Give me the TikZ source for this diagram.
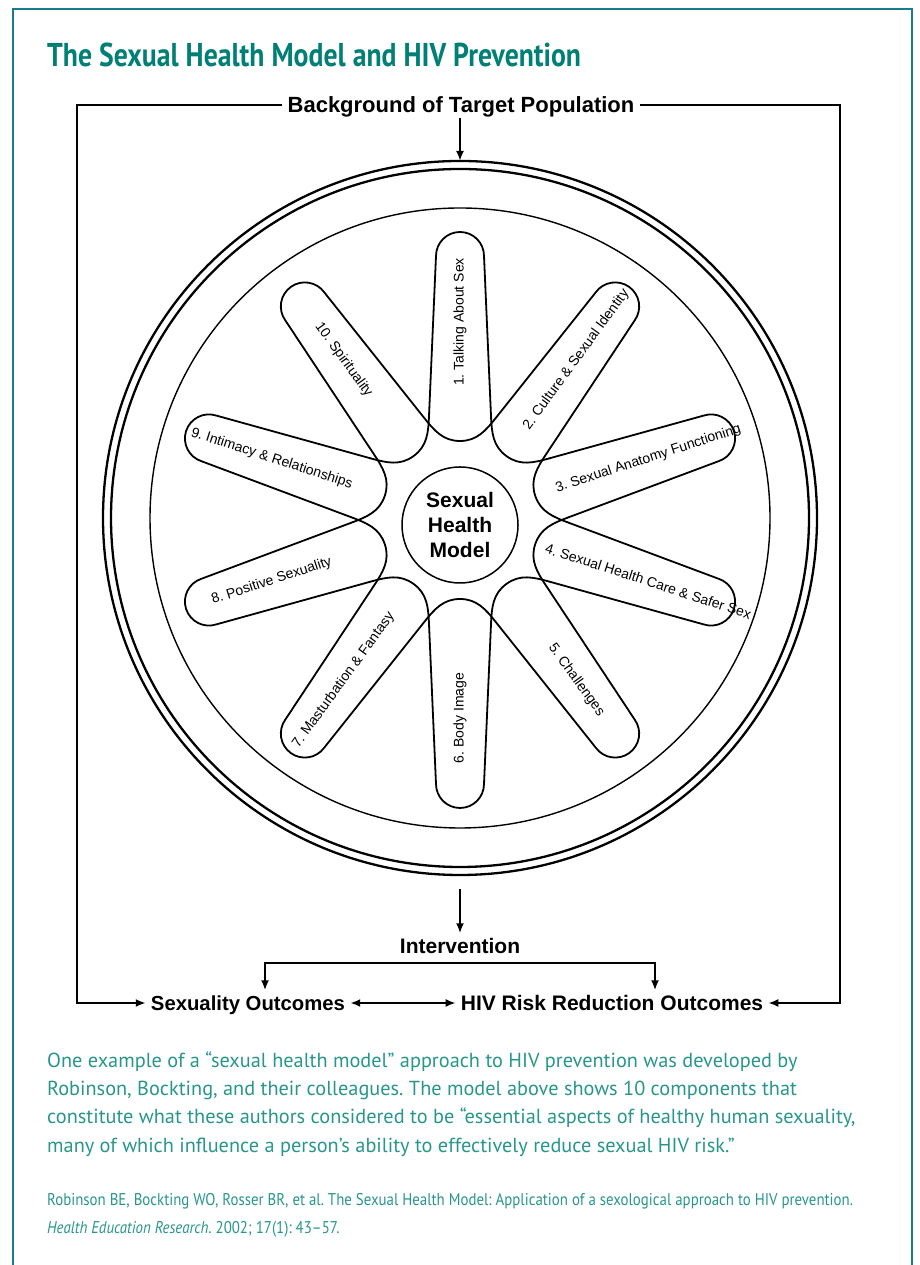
\documentclass[tikz,border=0pt]{standalone}
\usepackage{fontspec}
\setmainfont{Liberation Sans}
\newfontfamily\titlefont[FakeStretch=0.84]{PT Sans}
\newfontfamily\capfont{PT Sans}
\newfontfamily\citefont[FakeStretch=0.875]{PT Sans}
\usepackage{tikz}
\usetikzlibrary{arrows.meta,calc}
\definecolor{shmteal}{RGB}{0,128,116}
\definecolor{shmframe}{RGB}{27,122,140}
\definecolor{shmtext}{RGB}{40,150,140}
\frenchspacing
\tikzset{
  lbl/.style={font=\fontsize{21}{25}\selectfont\bfseries, inner sep=5pt, text height=15pt, text depth=0pt},
  petal/.style={line width=1.8pt, line cap=round},
  plabel/.style={font=\fontsize{14}{16}\selectfont, inner sep=0pt},
  arr/.style={line width=2.2pt, -{Latex[length=10pt,width=8pt]}},
  biarr/.style={line width=2.2pt, {Latex[length=10pt,width=8pt]}-{Latex[length=10pt,width=8pt]}},
  captext/.style={anchor=base west, inner sep=0pt, text=shmtext, font=\capfont\fontsize{20.3}{24}\selectfont},
  citetext/.style={anchor=base west, inner sep=0pt, text=shmtext, font=\citefont\fontsize{17}{20}\selectfont},
}
\begin{document}
\begin{tikzpicture}[x=1pt, y=1pt]
  \fill[white] (0,0) rectangle (919,1265);
  \useasboundingbox (0,0) rectangle (919,1265);
  % Teal box and title
  \draw[shmframe, line width=2.2pt] (13,0) -- (13,1256) -- (912,1256) -- (912,0);
  \node[anchor=base west, inner sep=0pt, text=shmteal, font=\titlefont\bfseries\fontsize{33}{36}\selectfont] (title) at (47,1198) {The Sexual Health Model and HIV Prevention};
  % Wheel
  \coordinate (wc) at (460,747);
  \coordinate (fc) at (460,745);
  \draw[line width=2.3pt] (wc) circle[radius=357];
  \draw[line width=2.3pt] (wc) circle[radius=349];
  \draw[line width=1.4pt] (wc) circle[radius=310];
  % Petals: outer part, then the bend that passes under each petal
  \foreach \a in {90,54,18,-18,-54,-90,-126,-162,-198,-234} {
    \begin{scope}[shift={(fc)}, rotate=\a-90]
      \draw[petal] (31,104) -- (24,264) arc[start angle=0, end angle=180, radius=24] -- (-31,104);
      \draw[petal] (-36.05,102.36) to[out=-51.5, in=180] (0,79) to[out=0, in=-128.5] (36.05,102.36);
    \end{scope}
  }
  \foreach \a/\r/\k/\txt in {90/90/1/{1. Talking About Sex}, 54/54/2/{2. Culture \& Sexual Identity},
      18/18/3/{3. Sexual Anatomy Functioning}, -18/-18/4/{4. Sexual Health Care \& Safer Sex},
      -54/-54/5/{5. Challenges}, -90/90/6/{6. Body Image}, -126/54/7/{7. Masturbation \& Fantasy},
      -162/18/8/{8. Positive Sexuality}, 162/-18/9/{9. Intimacy \& Relationships}, 126/-54/10/{10. Spirituality}} {
    \node[plabel, rotate=\r] (p\k) at ($(fc)+(\a:198)$) {\txt};
  }
  \node[draw, fill=white, circle, line width=1.5pt, minimum size=116pt, inner sep=0pt, align=center,
        font=\fontsize{21}{25}\selectfont\bfseries] (shm) at (460,740) {Sexual\\Health\\Model};
  % Frame and outcomes
  \node[lbl, fill=white, font=\fontsize{22}{25}\selectfont\bfseries] (bg) at (461,1160) {Background of Target Population};
  \node[lbl] (iv) at (460,319) {Intervention};
  \node[lbl, font=\fontsize{20.3}{25}\selectfont\bfseries] (so) at (248,262) {Sexuality Outcomes};
  \node[lbl] (hiv) at (612,262) {HIV Risk Reduction Outcomes};
  \coordinate (frameL) at (77,262);
  \coordinate (frameR) at (840,262);
  \coordinate (wtop) at (460,1104);
  \coordinate (wbot) at (460,376);
  \coordinate (brL) at (265,302);
  \coordinate (brR) at (655,302);
  \draw[arr] (bg.west) -| (frameL) -- (so.west);
  \draw[arr] (bg.east) -| (frameR) -- (hiv.east);
  \draw[arr] (bg.south -| wtop) -- (wtop);
  \draw[arr] (wbot) -- (iv.north);
  \draw[biarr] (brL |- so.north) -- (brL) -- (brR) -- (brR |- hiv.north);
  \draw[biarr] (so.east) -- (hiv.west);
  % Caption
  \node[captext] (c1) at (47,197) {One example of a “sexual health model” approach to HIV prevention was developed by};
  \node[captext] (c2) at (47,169) {Robinson, Bockting, and their colleagues. The model above shows 10 components that};
  \node[captext] (c3) at (47,141) {constitute what these authors considered to be “essential aspects of healthy human sexuality,};
  \node[captext] (c4) at (47,112) {many of which influence a person’s ability to effectively reduce sexual HIV risk.”};
  \node[citetext] (r1) at (47,59) {Robinson BE, Bockting WO, Rosser BR, et al. The Sexual Health Model: Application of a sexological approach to HIV prevention.};
  \node[citetext] (r2) at (47,31) {\itshape Health Education Research.\upshape{} 2002; 17(1): 43–57.};
\end{tikzpicture}
\end{document}
